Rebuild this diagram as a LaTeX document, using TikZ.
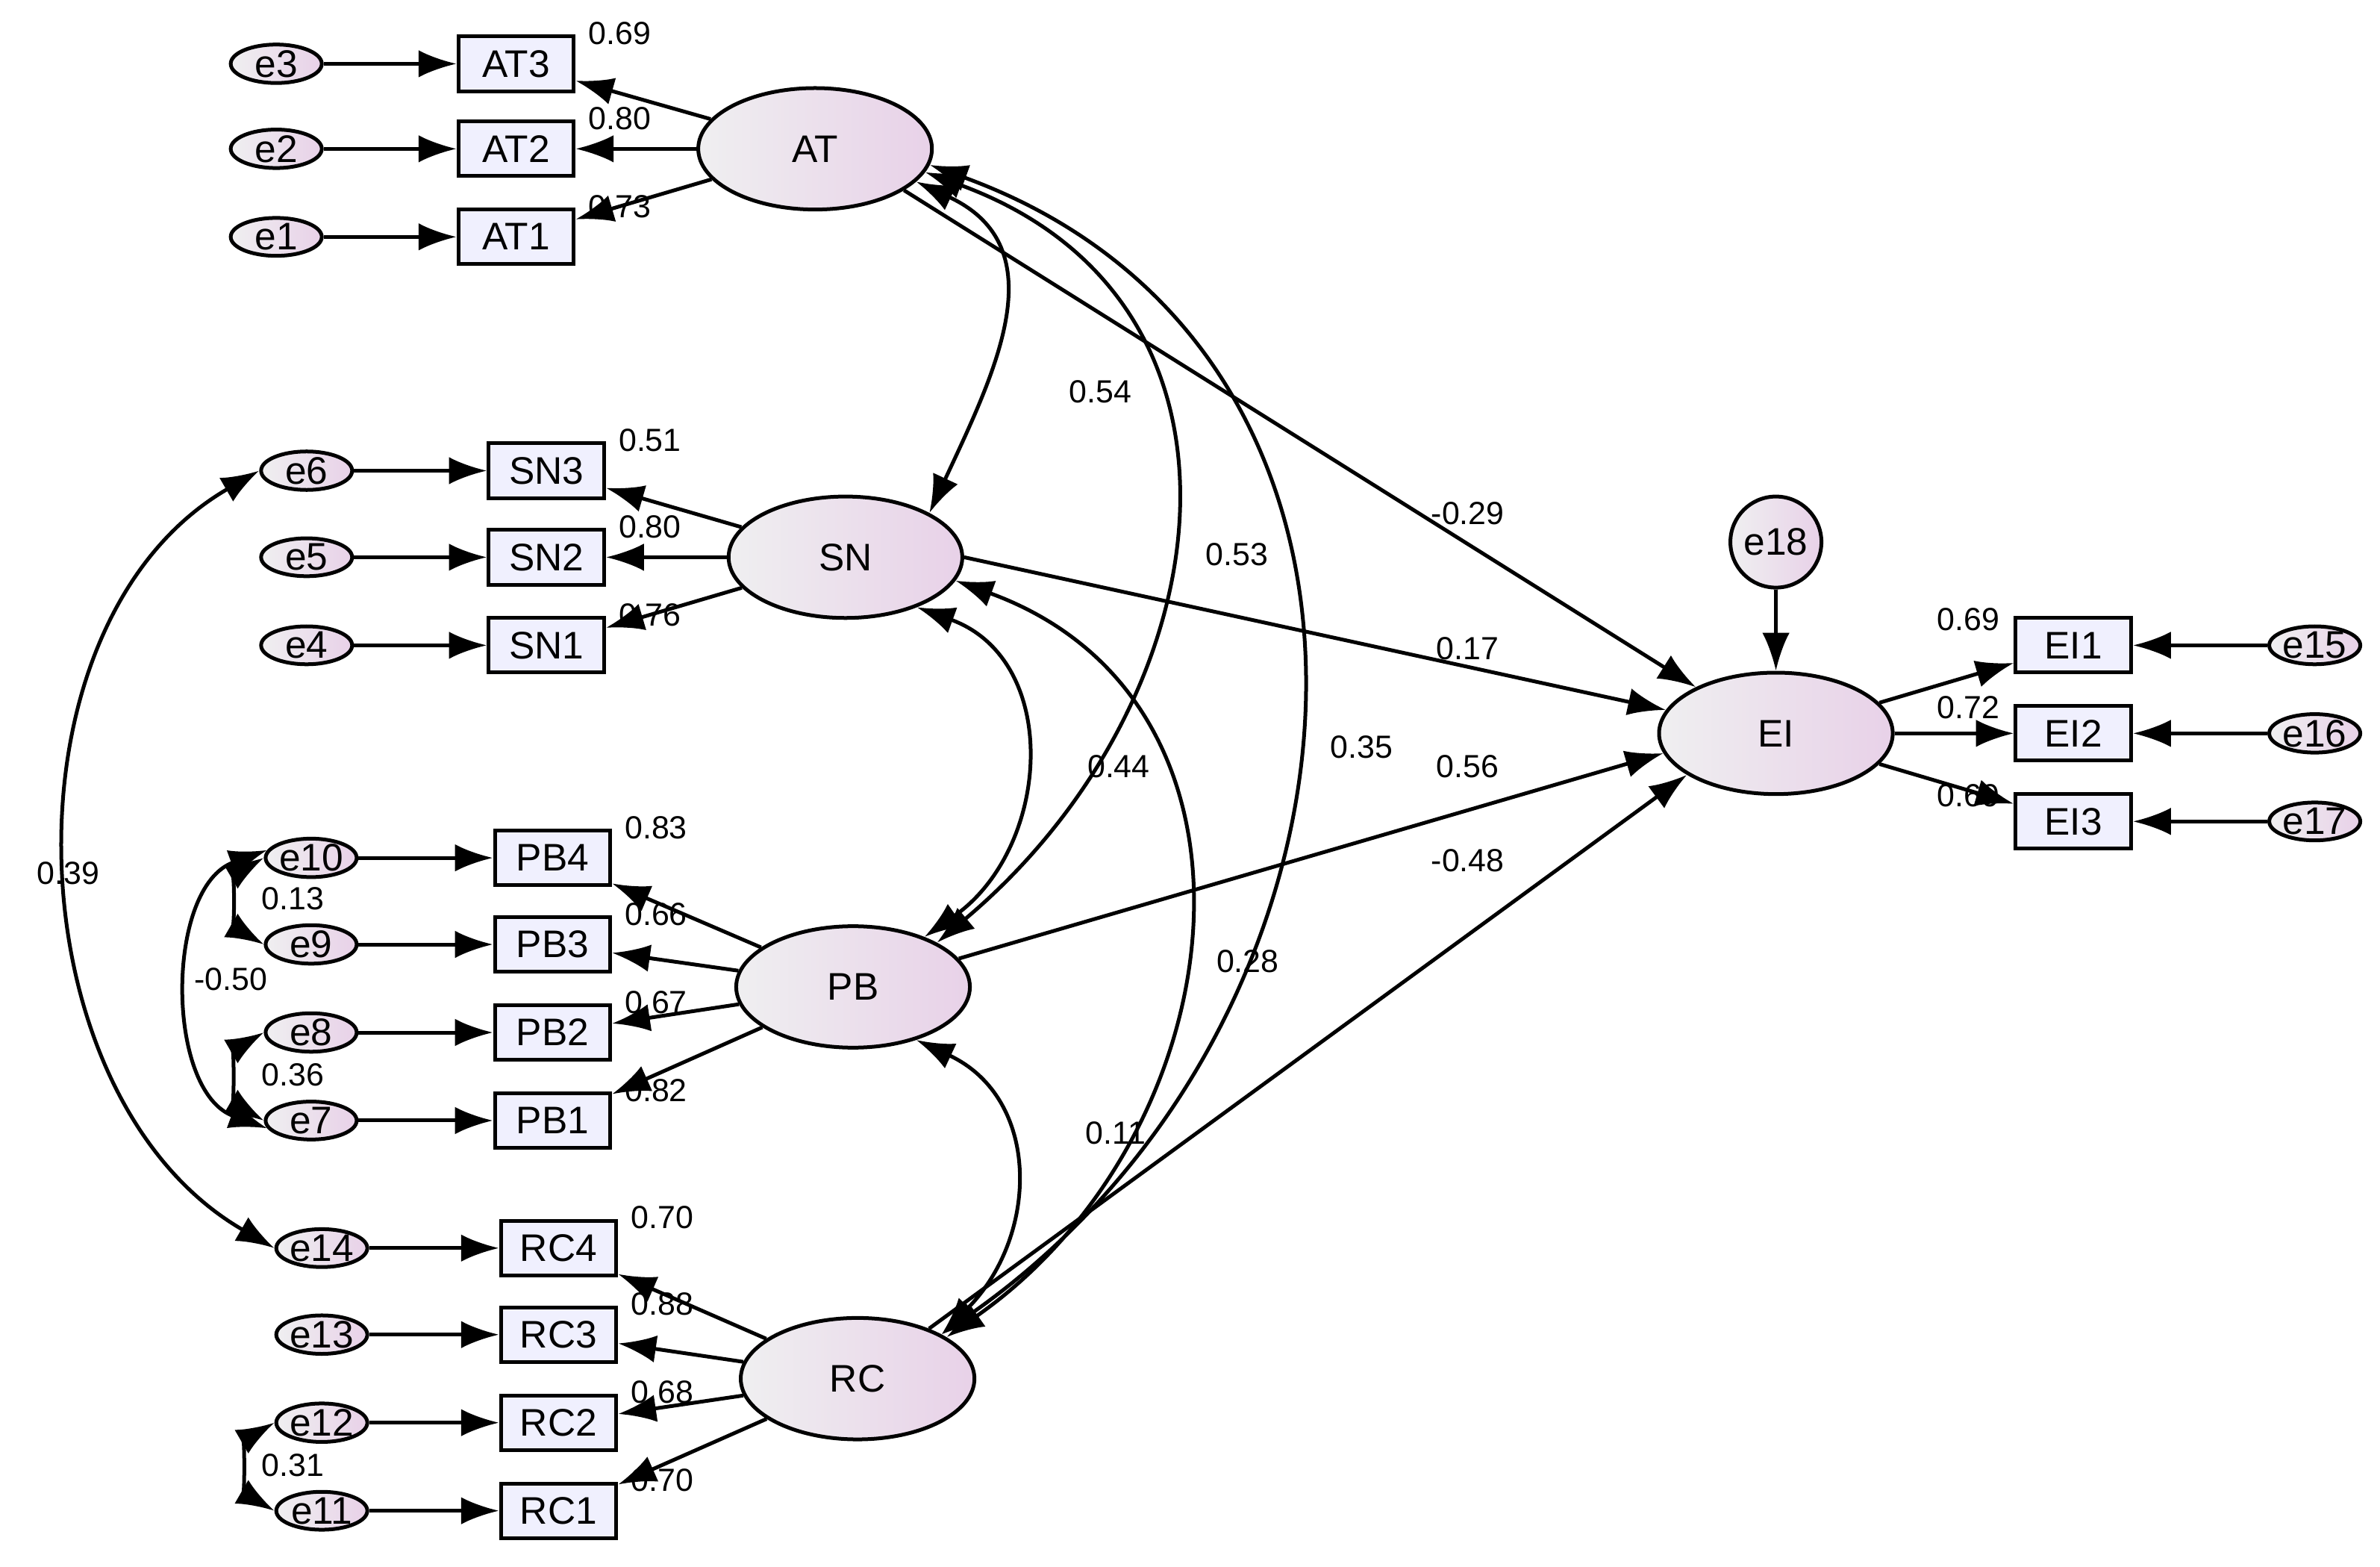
\documentclass[tikz,border=0pt]{standalone}
\usepackage{fontspec}
\setmainfont{Liberation Sans}
\usetikzlibrary{arrows.meta,calc,shapes.geometric}

\begin{document}
\begin{tikzpicture}[x=0.02cm, y=-0.02cm,
    latent/.style={ellipse, draw, line width=1.4pt, minimum width=3.08cm, minimum height=1.6cm,
      left color=blue!4!gray!12, right color=violet!18, font=\Large},
    ind/.style={rectangle, draw, line width=1.4pt, minimum width=1.52cm, minimum height=0.72cm,
      inner sep=0pt, fill=violet!8!blue!6, font=\Large},
    err/.style={ellipse, draw, line width=1.4pt, minimum width=1.2cm, minimum height=0.48cm,
      inner sep=0pt, left color=blue!4!gray!12, right color=violet!18, font=\Large},
    arr/.style={line width=1.4pt, -{Latex[length=0.5cm, width=0.36cm]}},
    cov/.style={line width=1.4pt, {Latex[length=0.5cm, width=0.36cm]}-{Latex[length=0.5cm, width=0.36cm]}},
    lbl/.style={font=\large, inner sep=1pt}]
  % frame
  \useasboundingbox (0,0) rectangle (1568,1032);

  % latent variables
  \node[latent] (AT) at (537,98) {AT};
  \node[latent] (SN) at (557,367) {SN};
  \node[latent] (PB) at (562,650) {PB};
  \node[latent] (RC) at (565,908) {RC};
  \node[latent] (EI) at (1170,483) {EI};
  \node[circle, draw, line width=1.4pt, minimum size=1.2cm, inner sep=0pt,
    left color=blue!4!gray!12, right color=violet!18, font=\Large] (e18) at (1170,357) {e18};

  % measurement part
  \foreach \lat/\bx/\bxx/\er/\ex/\y/\val in {AT/AT3/340/e3/182/42/0.69, AT/AT2/340/e2/182/98/0.80, AT/AT1/340/e1/182/156/0.73,
      SN/SN3/360/e6/202/310/0.51, SN/SN2/360/e5/202/367/0.80, SN/SN1/360/e4/202/425/0.76,
      PB/PB4/364/e10/205/565/0.83, PB/PB3/364/e9/205/622/0.66, PB/PB2/364/e8/205/680/0.67, PB/PB1/364/e7/205/738/0.82,
      RC/RC4/368/e14/212/822/0.70, RC/RC3/368/e13/212/879/0.88, RC/RC2/368/e12/212/937/0.68, RC/RC1/368/e11/212/995/0.70} {
    \node[err] (\er) at (\ex,\y) {\er};
    \node[ind] (\bx) at (\bxx,\y) {\bx};
    \draw[arr] (\er) -- (\bx);
    \draw[arr] (\lat) -- (\bx);
    \node[lbl] at ($(\bx.east)+(29,-20)$) {\val};
  }

  \foreach \bx/\er/\y/\val in {EI1/e15/425/0.69, EI2/e16/483/0.72, EI3/e17/541/0.69} {
    \node[ind] (\bx) at (1366,\y) {\bx};
    \node[err] (\er) at (1525,\y) {\er};
    \draw[arr] (\er) -- (\bx);
    \draw[arr] (EI) -- (\bx);
    \node[lbl] at ($(\bx.west)+(-30,-17)$) {\val};
  }
  \draw[arr] (e18) -- (EI);

  % structural paths
  \draw[arr] (AT.-25) -- (EI.150);
  \node[lbl] at (967,338) {-0.29};
  \draw[arr] (SN.east) -- (EI.168);
  \node[lbl] at (967,427) {0.17};
  \draw[arr] (PB.15) -- (EI.190);
  \node[lbl] at (967,505) {0.56};
  \draw[arr] (RC.35) -- (EI.205);
  \node[lbl] at (967,567) {-0.48};

  % covariances
  \draw[cov] (AT.-18) to[out=-25, in=65, looseness=1.2] (SN.north east);
  \node[lbl] at (725,258) {0.54};
  \draw[cov] (AT.-12) to[out=-20, in=40, looseness=1.25] (PB.north east);
  \node[lbl] at (815,365) {0.53};
  \draw[cov] (AT.-8) to[out=-20, in=35, looseness=1.2] (RC.north east);
  \node[lbl] at (897,492) {0.35};
  \draw[cov] (SN.-35) to[out=-20, in=35, looseness=1.2] (PB.35);
  \node[lbl] at (737,505) {0.44};
  \draw[cov] (SN.-12) to[out=-20, in=35, looseness=1.2] (RC.25);
  \node[lbl] at (822,633) {0.28};
  \draw[cov] (PB.-40) to[out=-25, in=45, looseness=1.2] (RC.north east);
  \node[lbl] at (735,746) {0.11};

  \draw[cov] (e6.west) to[out=210, in=150] (e14.west);
  \node[lbl] at (45,575) {0.39};
  \draw[cov] (e10.west) to[out=210, in=150] (e9.west);
  \node[lbl] at (193,592) {0.13};
  \draw[cov] (e10.170) to[out=200, in=160] (e7.190);
  \node[lbl] at (152,645) {-0.50};
  \draw[cov] (e8.west) to[out=210, in=150] (e7.west);
  \node[lbl] at (193,708) {0.36};
  \draw[cov] (e12.west) to[out=210, in=150] (e11.west);
  \node[lbl] at (193,965) {0.31};
\end{tikzpicture}
\end{document}
